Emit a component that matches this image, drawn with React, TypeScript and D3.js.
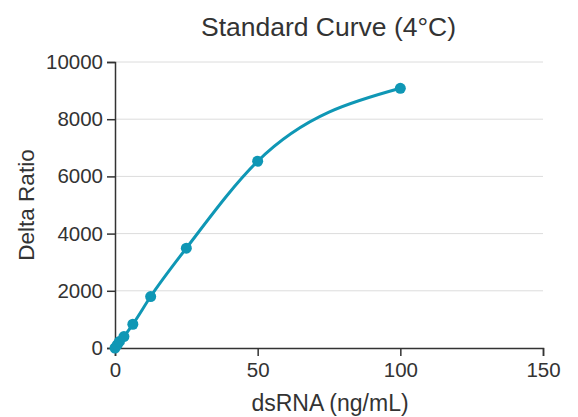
import React, { useEffect, useRef } from 'react';
import * as d3 from 'd3';

// concentrations (ng/mL) and measured delta ratio
const conc = [0, 0.78, 1.5625, 3.125, 6.25, 12.5, 25, 50, 100];
const delta = [0, 110, 230, 400, 830, 1800, 3490, 6530, 9080];
const xTicks = [0, 50, 100, 150];
const yTicks = [0, 2000, 4000, 6000, 8000, 10000];

const title = 'Standard Curve (4°C)';
const xLabel = 'dsRNA (ng/mL)';
const yLabel = 'Delta Ratio';

const App = () => {
  const ref = useRef<SVGSVGElement>(null);

  useEffect(() => {
    const w = 578, h = 417;
    const m = { top: 62, right: 35, bottom: 69, left: 115 };
    const svg = d3.select(ref.current);
    svg.selectAll('*').remove();

    const x = d3.scaleLinear().domain([0, 150]).range([m.left, w - m.right]);
    const y = d3.scaleLinear().domain([0, 10000]).range([h - m.bottom, m.top]);
    const font = '"Liberation Sans", Arial, sans-serif';
    const textCol = '#333';
    const color = '#0f97b5';

    // gridlines
    svg.append('g')
      .selectAll('line')
      .data(yTicks.filter(d => d > 0))
      .enter()
      .append('line')
      .attr('x1', x(0)).attr('x2', x(150))
      .attr('y1', d => y(d)).attr('y2', d => y(d))
      .attr('stroke', '#dcdcdc').attr('stroke-width', 1);

    // x axis
    const gx = svg.append('g')
      .attr('transform', `translate(0,${y(0)})`)
      .call(d3.axisBottom(x).tickValues(xTicks).tickSize(8).tickPadding(6).tickFormat(d3.format('d')));
    gx.select('.domain').attr('stroke', textCol).attr('stroke-width', 1.5);
    gx.selectAll('.tick line').attr('stroke', textCol).attr('stroke-width', 1.5);
    gx.selectAll('.tick text').attr('fill', textCol).style('font', `20.5px ${font}`);

    // y axis
    const gy = svg.append('g')
      .attr('transform', `translate(${x(0)},0)`)
      .call(d3.axisLeft(y).tickValues(yTicks).tickSize(8).tickPadding(4).tickFormat(d3.format('d')));
    gy.select('.domain').attr('stroke', textCol).attr('stroke-width', 1.5);
    gy.selectAll('.tick line').attr('stroke', textCol).attr('stroke-width', 1.5);
    gy.selectAll('.tick text').attr('fill', textCol).style('font', `20.5px ${font}`);

    // curve
    const pts = conc.map((c, i) => [c, delta[i]] as [number, number]);
    const line = d3.line<[number, number]>()
      .x(d => x(d[0]))
      .y(d => y(d[1]))
      .curve(d3.curveMonotoneX);
    svg.append('path')
      .attr('d', line(pts))
      .attr('fill', 'none')
      .attr('stroke', color)
      .attr('stroke-width', 3);

    svg.append('g')
      .selectAll('circle')
      .data(pts)
      .enter()
      .append('circle')
      .attr('cx', d => x(d[0]))
      .attr('cy', d => y(d[1]))
      .attr('r', 5.5)
      .attr('fill', color);

    // titles
    svg.append('text')
      .attr('x', 328.5).attr('y', 36)
      .attr('text-anchor', 'middle')
      .attr('fill', textCol)
      .style('font', `26.5px ${font}`)
      .text(title);

    svg.append('text')
      .attr('x', 330).attr('y', 411)
      .attr('text-anchor', 'middle')
      .attr('fill', textCol)
      .style('font', `23px ${font}`)
      .text(xLabel);

    svg.append('text')
      .attr('transform', `translate(34,${(y(0) + y(10000)) / 2}) rotate(-90)`)
      .attr('text-anchor', 'middle')
      .attr('fill', textCol)
      .style('font', `22.5px ${font}`)
      .text(yLabel);
  }, []);

  return (
    <svg ref={ref} width={578} height={417}
      style={{ position: 'absolute', left: 0, top: 0, background: '#fff' }} />
  );
};

export default App;
